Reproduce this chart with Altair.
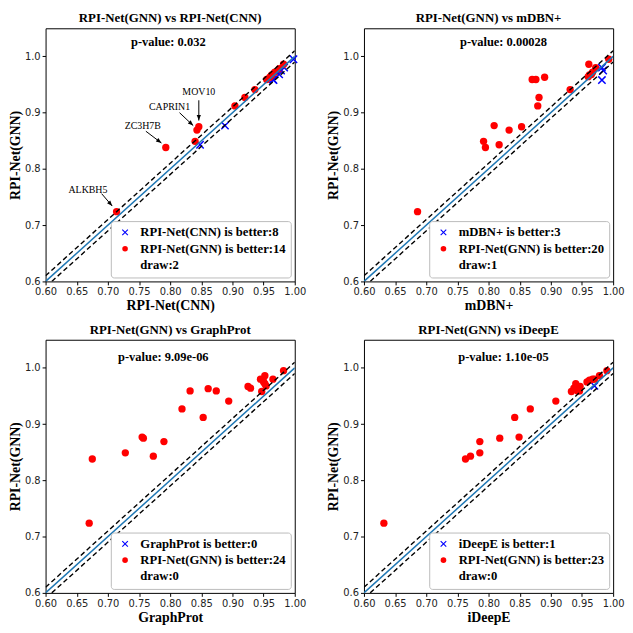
import math
import altair as alt
import pandas as pd

# ---------------- data ----------------
GNN = [0.724, 0.838, 0.843, 0.849, 0.869, 0.875, 0.877, 0.912, 0.927, 0.941,
       0.958, 0.959, 0.959, 0.963, 0.964, 0.967, 0.968, 0.972, 0.975, 0.978,
       0.980, 0.980, 0.986, 0.995]
CNN = [0.714, 0.793, 0.848, 0.840, 0.843, 0.846, 0.888, 0.904, 0.920, 0.936,
       0.966, 0.955, 0.965, 0.960, 0.964, 0.963, 0.975, 0.968, 0.978, 0.975,
       0.983, 0.980, 0.982, 0.998]
MDBN = [0.686, 0.795, 0.817, 0.792, 0.833, 0.853, 0.809, 0.879, 0.881, 0.931,
        0.982, 0.870, 0.876, 0.890, 0.960, 0.962, 0.965, 0.967, 0.984, 0.978,
        0.982, 0.972, 0.961, 0.993]
GRAPHPROT = [0.670, 0.675, 0.773, 0.728, 0.790, 0.757, 0.755, 0.853, 0.819, 0.894,
             0.947, 0.832, 0.874, 0.861, 0.929, 0.925, 0.954, 0.952, 0.950, 0.949,
             0.945, 0.965, 0.952, 0.982]
IDEEPE = [0.632, 0.763, 0.771, 0.786, 0.786, 0.818, 0.849, 0.842, 0.867, 0.908,
          0.933, 0.943, 0.946, 0.944, 0.937, 0.947, 0.970, 0.940, 0.958, 0.962,
          0.967, 0.970, 0.978, 0.990]

COMPARATORS = ["RPI-Net(CNN)", "mDBN+", "GraphProt", "iDeepE"]
COMP_VALUES = [CNN, MDBN, GRAPHPROT, IDEEPE]
GNN_NAME = "RPI-Net(GNN)"

P_TEXTS = ["p-value: 0.032", "p-value: 0.00028", "p-value: 9.09e-06", "p-value: 1.10e-05"]
P_X = [0.797, 0.824, 0.789, 0.824]
P_Y = [1.026, 1.026, 1.020, 1.020]

ANN_NAMES = ["ALKBH5", "ZC3H7B", "CAPRIN1", "MOV10"]
ANN_TEXT_X = [0.668, 0.756, 0.799, 0.846]
ANN_TEXT_Y = [0.763, 0.877, 0.910, 0.936]
ANN_START_X = [0.690, 0.761, 0.815, 0.846]
ANN_START_Y = [0.756, 0.867, 0.900, 0.922]
ANN_END_X = [0.707, 0.786, 0.837, 0.846]
ANN_END_Y = [0.734, 0.846, 0.877, 0.886]

X_TICKS = [0.60, 0.65, 0.70, 0.75, 0.80, 0.85, 0.90, 0.95, 1.00]
Y_TICKS = [0.6, 0.7, 0.8, 0.9, 1.0]
X_DOMAIN = [0.6, 1.0]
Y_DOMAIN = [0.6, 1.05]
DIAG = [0.6, 1.0]
BAND = 0.01

# ---------------- styles ----------------
W, H = 252, 256
SERIF = "Liberation Serif"
X_PATH = ("M-0.86,-1.14L1.14,0.86L0.86,1.14L-1.14,-0.86Z"
          "M-1.14,0.86L0.86,-1.14L1.14,-0.86L-0.86,1.14Z")
HEAD_PATH = "M0,0L-1,2.6L1,2.6Z"


def xenc(field, title):
    return alt.X(field, type="quantitative",
                 scale=alt.Scale(domain=X_DOMAIN, nice=False, zero=False),
                 axis=alt.Axis(values=X_TICKS, format=".2f", title=title))


def yenc(field):
    return alt.Y(field, type="quantitative",
                 scale=alt.Scale(domain=Y_DOMAIN, nice=False, zero=False),
                 axis=alt.Axis(values=Y_TICKS, format=".1f", title=GNN_NAME))


def panel(i):
    name = COMPARATORS[i]
    xs = COMP_VALUES[i]
    status = []
    for xv, yv in zip(xs, GNN):
        if abs(xv - yv) < 1e-9:
            status.append(2)
        elif xv > yv:
            status.append(0)
        else:
            status.append(1)
    counts = [status.count(k) for k in range(3)]
    cats = [f"{name} is better:{counts[0]}",
            f"{GNN_NAME} is better:{counts[1]}",
            f"draw:{counts[2]}"]
    field = f"cat{i}"
    df = pd.DataFrame({"x": xs, "y": GNN, field: [cats[s] for s in status]})

    leg = alt.Legend(title=None, orient="bottom-right")
    pts = alt.Chart(df).mark_point(filled=True, opacity=1, size=55).encode(
        x=xenc("x", name), y=yenc("y"),
        color=alt.Color(f"{field}:N", scale=alt.Scale(domain=cats, range=["blue", "red", "rgba(0,0,0,0)"]), legend=leg),
        shape=alt.Shape(f"{field}:N", scale=alt.Scale(domain=cats, range=[X_PATH, "circle", "circle"]), legend=leg),
    )

    upper = pd.DataFrame({"x": DIAG, "y": [v + BAND for v in DIAG], "g": "u"})
    lower = pd.DataFrame({"x": [DIAG[0] + BAND, DIAG[1]], "y": [DIAG[0], DIAG[1] - BAND], "g": "l"})
    dashed = alt.Chart(pd.concat([upper, lower])).mark_line(
        color="black", strokeDash=[5, 3], strokeWidth=1.4, clip=True
    ).encode(x=xenc("x", name), y=yenc("y"), detail="g:N")
    diag = alt.Chart(pd.DataFrame({"x": DIAG, "y": DIAG})).mark_line(
        color="#1f77b4", strokeWidth=1.5, clip=True
    ).encode(x=xenc("x", name), y=yenc("y"))

    ptxt = alt.Chart(pd.DataFrame({"x": [P_X[i]], "y": [P_Y[i]], "t": [P_TEXTS[i]]})).mark_text(
        font=SERIF, fontSize=12.6, fontWeight="bold", color="black"
    ).encode(x=xenc("x", name), y=yenc("y"), text="t:N")

    layers = [pts, dashed, diag, ptxt]

    if i == 0:
        ann = pd.DataFrame({
            "name": ANN_NAMES, "tx": ANN_TEXT_X, "ty": ANN_TEXT_Y,
            "sx": ANN_START_X, "sy": ANN_START_Y, "ex": ANN_END_X, "ey": ANN_END_Y,
        })
        ann["angle"] = [
            math.degrees(math.atan2((ex - sx) * W / 0.4, (ey - sy) * H / 0.45)) % 360
            for sx, sy, ex, ey in zip(ann.sx, ann.sy, ann.ex, ann.ey)
        ]
        atext = alt.Chart(ann).mark_text(font=SERIF, fontSize=10, color="black").encode(
            x=xenc("tx", name), y=yenc("ty"), text="name:N")
        arule = alt.Chart(ann).mark_rule(color="black", strokeWidth=1).encode(
            x=xenc("sx", name), y=yenc("sy"), x2="ex", y2="ey")
        ahead = alt.Chart(ann).mark_point(shape=HEAD_PATH, filled=True, color="black", opacity=1, size=18).encode(
            x=xenc("ex", name), y=yenc("ey"), angle=alt.Angle("angle:Q", scale=None))
        layers += [atext, arule, ahead]

    return alt.layer(*layers).properties(
        width=W, height=H, title=f"{GNN_NAME} vs {name}")


def row(a, b):
    return alt.hconcat(a, b, spacing=20).resolve_scale(
        color="independent", shape="independent"
    ).resolve_legend(color="independent", shape="independent")


chart = alt.vconcat(row(panel(0), panel(1)), row(panel(2), panel(3)), spacing=10).resolve_scale(
    color="independent", shape="independent"
).resolve_legend(color="independent", shape="independent").properties(
    padding={"left": 0, "top": 0, "right": 0, "bottom": 0}
).configure_view(
    stroke="black", strokeWidth=1
).configure_axis(
    grid=False, domain=False, tickColor="black", tickSize=3.5,
    labelFont="DejaVu Sans", labelFontSize=10, labelColor="#222",
    labelPadding=2, labelFlush=False, labelOverlap=False,
    titleFont=SERIF, titleFontWeight="bold", titleFontSize=14, titleColor="black",
    titlePadding=2,
).configure_title(
    font=SERIF, fontSize=13, fontWeight="bold", color="black", offset=3
).configure_legend(
    strokeColor="#bbbbbb", fillColor="white", padding=5, cornerRadius=3,
    labelFont=SERIF, labelFontSize=12.8, labelFontWeight="bold", labelColor="black",
    symbolSize=32, symbolOffset=3, labelOffset=9, offset=4, rowPadding=2.5, labelLimit=300,
)

chart.save("out.html", embed_options={"renderer": "svg", "actions": False})
